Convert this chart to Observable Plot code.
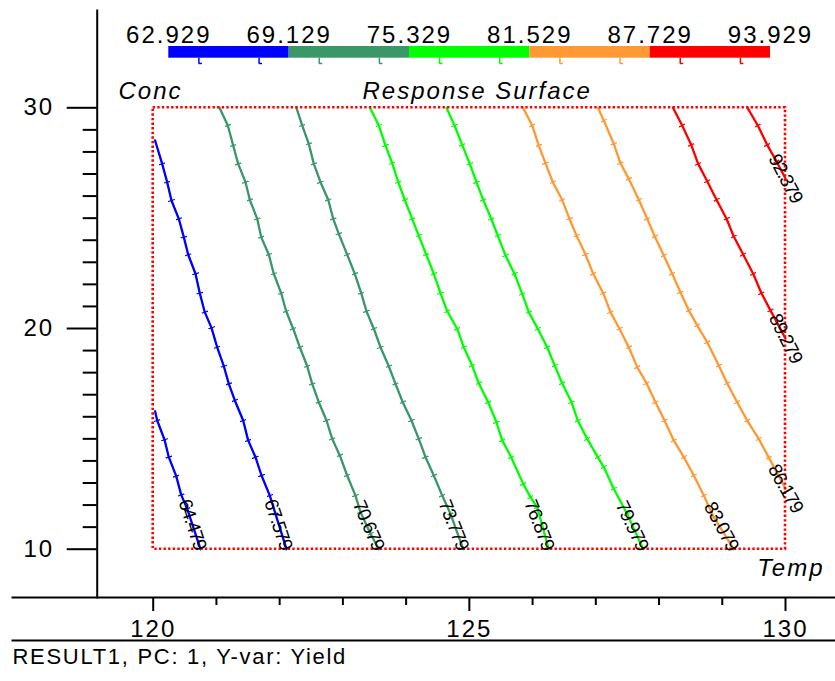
<!DOCTYPE html>
<html><head><meta charset="utf-8">
<script src="https://cdn.jsdelivr.net/npm/d3@7"></script>
<script src="https://cdn.jsdelivr.net/npm/@observablehq/plot@0.6"></script>
<style>
body{margin:0;background:#fff;}
#wrap{position:relative;width:835px;height:681px;overflow:hidden;}
#wrap svg{position:absolute;left:0;top:0;}
</style></head><body><div id="wrap"></div>
<script>
// ---- data ----
const tempDomain = [120, 130];
const concDomain = [10, 30];
const tempMajor = [120, 125, 130];
const concMajor = [10, 20, 30];
const legendBreaks = [62.929, 69.129, 75.329, 81.529, 87.729, 93.929];
const legendColors = ["#0000ff", "#3a9868", "#00ff00", "#ff9933", "#ff0000"];
const levels = [64.479, 67.579, 70.679, 73.779, 76.879, 79.979, 83.079, 86.179, 89.279, 92.379];

// contour lines: [Temp, Conc]
const line64479 = [[120.03,16.25],[120.063,15.83],[120.179,14.96],[120.247,14.17],[120.364,13.31],[120.443,12.46],[120.538,11.83],[120.748,10.0]];
const line67579 = [[120.03,28.52],[120.142,27.46],[120.221,26.63],[120.289,25.80],[120.405,24.97],[120.484,24.14],[120.554,23.34],[120.669,22.48],[120.737,21.60],[120.816,20.74],[120.922,20.03],[121.012,19.15],[121.117,18.29],[121.196,17.49],[121.291,16.74],[121.423,15.83],[121.502,14.93],[121.618,14.17],[121.713,13.34],[121.844,12.43],[121.934,11.60],[122.108,10.0]];
const line70679 = [[121.049,30],[121.180,29.20],[121.265,28.29],[121.344,27.46],[121.460,26.63],[121.528,25.83],[121.645,24.97],[121.708,24.14],[121.828,23.35],[121.907,22.48],[122.024,21.60],[122.103,20.78],[122.214,19.99],[122.319,19.15],[122.436,18.29],[122.515,17.49],[122.619,16.66],[122.741,15.83],[122.831,15.00],[122.951,14.25],[123.068,13.34],[123.199,12.43],[123.278,11.68],[123.437,10.70],[123.568,10]];
const line73779 = [[122.266,30],[122.356,29.20],[122.461,28.37],[122.540,27.46],[122.646,26.63],[122.768,25.83],[122.847,24.97],[122.935,24.29],[123.068,23.35],[123.188,22.48],[123.290,21.60],[123.373,20.78],[123.489,19.99],[123.595,19.15],[123.726,18.29],[123.832,17.49],[123.947,16.66],[124.085,15.83],[124.200,15.00],[124.307,14.17],[124.438,13.34],[124.571,12.43],[124.702,11.60],[124.903,10]];
const line76879 = [[123.429,30],[123.568,29.20],[123.674,28.29],[123.780,27.49],[123.875,26.63],[123.979,25.83],[124.096,24.97],[124.200,24.21],[124.318,23.35],[124.438,22.48],[124.544,21.60],[124.650,20.78],[124.808,19.99],[124.912,19.15],[125.045,18.32],[125.149,17.52],[125.298,16.66],[125.429,15.75],[125.520,14.93],[125.662,14.17],[125.852,12.96],[125.967,12.36],[126.073,11.90],[126.256,10]];
const line79979 = [[124.639,30],[124.765,29.20],[124.887,28.32],[125.007,27.46],[125.113,26.63],[125.219,25.83],[125.346,24.97],[125.450,24.21],[125.572,23.31],[125.714,22.48],[125.836,21.57],[125.940,20.74],[126.083,19.99],[126.231,19.15],[126.351,18.32],[126.468,17.52],[126.616,16.66],[126.715,15.83],[126.864,15.00],[127.031,14.17],[127.126,13.72],[127.284,12.74],[127.496,11.60],[127.749,10]];
const line83079 = [[125.849,30],[125.994,29.20],[126.098,28.29],[126.204,27.49],[126.320,26.63],[126.468,25.83],[126.584,24.97],[126.695,24.21],[126.837,23.35],[126.959,22.48],[127.117,21.60],[127.232,20.74],[127.374,19.99],[127.522,19.15],[127.655,18.25],[127.802,17.52],[127.944,16.66],[128.087,15.83],[128.233,14.93],[128.392,14.17],[128.550,13.34],[128.708,12.43],[128.866,11.45],[129.182,10]];
const line86179 = [[127.035,30],[127.126,29.42],[127.284,28.37],[127.390,27.49],[127.522,26.78],[127.680,25.83],[127.813,24.97],[127.933,24.17],[128.075,23.31],[128.208,22.48],[128.339,21.64],[128.471,20.82],[128.603,20.14],[128.762,19.38],[128.945,18.32],[129.078,17.52],[129.236,16.66],[129.394,15.83],[129.578,15.00],[129.736,14.15],[130,12.75]];
const line89279 = [[128.221,30],[128.366,29.20],[128.509,28.32],[128.619,27.46],[128.762,26.67],[128.909,25.83],[129.067,24.97],[129.182,24.17],[129.331,23.35],[129.489,22.48],[129.620,21.60],[129.762,20.82],[130,19.55]];
const line92379 = [[129.399,30],[129.562,29.20],[129.711,28.32],[129.858,27.57],[130,26.80]];
const contourLines = [line64479, line67579, line70679, line73779, line76879, line79979, line83079, line86179, line89279, line92379];
const footerText = "RESULT1, PC: 1, Y-var: Yield";

// ---- layout ----
const W = 835, H = 681;
const xRange = [152.7, 785], yRange = [548.7, 107.3];
const xs = d3.scaleLinear(tempDomain, xRange), ys = d3.scaleLinear(concDomain, yRange);
const FONT = "Arial, 'Liberation Sans', sans-serif";

function colorOf(v) {
  for (let i = 0; i < legendColors.length; i++) if (v >= legendBreaks[i] && v < legendBreaks[i + 1]) return legendColors[i];
  return legendColors[legendColors.length - 1];
}

const rows = [];
const labelRows = [];
contourLines.forEach((pts, i) => {
  const level = levels[i], color = colorOf(level);
  pts.forEach(([t, c]) => rows.push({level, temp: t, conc: c, color}));
  const n = pts.length, a = pts[Math.max(0, n - 4)], b = pts[n - 1];
  const angle = Math.atan2(ys(b[1]) - ys(a[1]), xs(b[0]) - xs(a[0])) * 180 / Math.PI;
  labelRows.push({level, temp: b[0], conc: b[1], angle, right: b[0] >= tempDomain[1]});
});

const minorX = d3.range(tempDomain[0], tempDomain[1] + 1).filter(v => !tempMajor.includes(v));
const minorY = d3.range(concDomain[0], concDomain[1] + 1).filter(v => !concMajor.includes(v));
const designRegion = [{x1: tempDomain[0], x2: tempDomain[1], y1: concDomain[0], y2: concDomain[1]}];

const main = Plot.plot({
  width: W, height: H,
  marginLeft: 12, marginRight: 0, marginTop: 10, marginBottom: 84,
  x: {domain: tempDomain, range: xRange, label: null},
  y: {domain: concDomain, range: yRange, label: null},
  color: {type: "identity"},
  style: {fontFamily: FONT, fontSize: "24px", color: "black", background: "white", overflow: "visible"},
  marks: [
    Plot.line(rows, {x: "temp", y: "conc", z: "level", stroke: "color", strokeWidth: 1.1, markerMid: "tick"}),
    Plot.line(rows, {x: "temp", y: "conc", z: "level", stroke: "color", strokeWidth: 2.3}),
    Plot.rect(designRegion, {x1: "x1", x2: "x2", y1: "y1", y2: "y2", fill: "none", stroke: "#ff0000", strokeWidth: 2.6, strokeDasharray: "2.4,2.2"}),
    Plot.text(labelRows.filter(d => !d.right), {x: "temp", y: "conc", text: d => d.level.toFixed(3), rotate: "angle", textAnchor: "end", lineAnchor: "middle", fontSize: 19, fill: "black"}),
    Plot.text(labelRows.filter(d => d.right), {x: "temp", y: "conc", text: d => d.level.toFixed(3), rotate: "angle", textAnchor: "middle", lineAnchor: "middle", fontSize: 19, fill: "black"}),
    Plot.frame({anchor: "bottom", strokeWidth: 2}),
    Plot.frame({anchor: "bottom", strokeWidth: 2, dy: 43}),
    Plot.frame({anchor: "left", strokeWidth: 2, dx: 84.7}),
    Plot.axisX(tempMajor, {anchor: "bottom", tickSize: 14, tickPadding: 8, strokeWidth: 2, label: null}),
    Plot.axisX(minorX, {anchor: "bottom", tickSize: 8, tickFormat: () => "", strokeWidth: 2, label: null}),
    Plot.axisY(concMajor, {anchor: "left", tickSize: 30, tickPadding: 13, strokeWidth: 2, dx: 84.7, label: null}),
    Plot.axisY(minorY, {anchor: "left", tickSize: 14, tickFormat: () => "", strokeWidth: 2, dx: 84.7, label: null}),
    Plot.text(["Temp"], {frameAnchor: "bottom-right", dx: -11, dy: -22, textAnchor: "end", fontStyle: "italic", fontSize: 24}),
    Plot.text([footerText], {frameAnchor: "bottom-left", dy: 66, textAnchor: "start", fontSize: 22})
  ]
});

const segments = legendColors.map((c, i) => ({from: legendBreaks[i], to: legendBreaks[i + 1], color: c}));
const legend = Plot.plot({
  width: W, height: 100, margin: 0,
  x: {domain: [legendBreaks[0], legendBreaks[legendBreaks.length - 1]], range: [168.3, 770], axis: null},
  y: {domain: [0, 1], range: [57.7, 46], axis: null},
  color: {type: "identity"},
  style: {fontFamily: FONT, fontSize: "24px", color: "black", background: "transparent", overflow: "visible"},
  marks: [
    Plot.rect(segments, {x1: "from", x2: "to", y1: 0, y2: 1, fill: "color"}),
    Plot.ruleX(levels, {x: d => d, y1: 0, y2: -0.45, stroke: d => colorOf(d), strokeWidth: 1.5}),
    Plot.ruleY(levels, {y: -0.45, x1: d => d, x2: d => d + 0.18, stroke: d => colorOf(d), strokeWidth: 1.5}),
    Plot.text(legendBreaks, {x: d => d, y: 1, dy: -4, lineAnchor: "bottom", text: d => d.toFixed(3), fontSize: 24}),
    Plot.text(["Conc"], {frameAnchor: "top-left", dx: 150, dy: 81, textAnchor: "middle", fontStyle: "italic", fontSize: 24}),
    Plot.text(["Response Surface"], {frameAnchor: "top-left", dx: 362, dy: 81, textAnchor: "start", fontStyle: "italic", fontSize: 24})
  ]
});

const wrap = document.getElementById("wrap");
wrap.appendChild(main);
wrap.appendChild(legend);
for (const svg of [main, legend]) {
  d3.select(svg).selectAll("text").attr("letter-spacing", 2);
  d3.select(svg).selectAll('g[font-size="19"] text').attr("letter-spacing", -1);
  d3.select(svg).selectAll('g[font-size="22"] text').attr("letter-spacing", 1.7);
}
</script></body></html>
